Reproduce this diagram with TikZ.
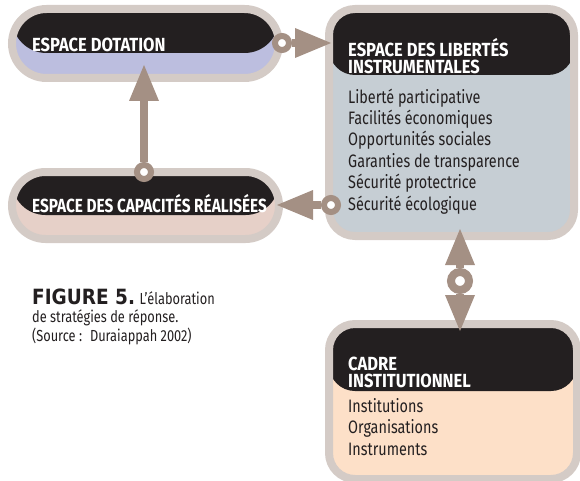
\documentclass[tikz,border=0pt]{standalone}
\usepackage{fontspec}
\usepackage{graphicx}
\setmainfont{Fira Sans}[FakeStretch=0.8, BoldFeatures={FakeStretch=0.87}]
\newfontfamily\figfont{DejaVu Sans}[FakeStretch=0.88]
\usetikzlibrary{arrows.meta, positioning}
\definecolor{rim}{RGB}{212,203,198}
\definecolor{ink}{RGB}{35,31,32}
\definecolor{arrowc}{RGB}{164,144,132}
\definecolor{lav}{RGB}{188,190,223}
\definecolor{steel}{RGB}{198,206,212}
\definecolor{blush}{RGB}{230,208,200}
\definecolor{peach}{RGB}{253,224,200}

\begin{document}
\begin{tikzpicture}[x=1pt, y=-1pt]

\tikzset{panel/.style n args = {3}{draw=rim, line width=8pt, fill=#1, rounded corners=#2,
  path picture={\fill[ink] (path picture bounding box.north west) rectangle ([yshift=-#3]path picture bounding box.north east);}}}
\tikzset{head/.style = {text=white, inner sep=0pt, anchor=base west, align=left, font=\fontsize{19}{16.7}\selectfont\bfseries}}
\tikzset{item/.style = {text=ink, inner sep=0pt, anchor=base west, align=left, font=\fontsize{18}{21.4}\selectfont}}
\tikzset{ring/.style = {circle, draw=arrowc, fill=white, line width=6pt, minimum size=14pt, inner sep=0pt}}
\tikzset{link/.style = {draw=arrowc, line width=8pt, -{Triangle[length=36pt, width=30pt, line width=0pt]}}}
\useasboundingbox (0,0) rectangle (580,481);

%panels
\node[panel={lav}{34.5pt}{44pt}, minimum width=267pt, minimum height=69pt] (dot) at (145.5,43.5) {};
\node[panel={blush}{33.5pt}{43pt}, minimum width=267pt, minimum height=67pt] (cap) at (145.5,205.5) {};
\node[panel={steel}{26pt}{66pt}, minimum width=245pt, minimum height=227pt] (lib) at (451.5,122.5) {};
\node[panel={peach}{26pt}{67pt}, minimum width=248pt, minimum height=155pt] (inst) at (453,401.5) {};

%texts (anchored on the last line)
\node[head] (dot-t) at (32,52) {ESPACE DOTATION};
\node[head] (cap-t) at (32,212) {\scalebox{0.93}[1]{ESPACE DES CAPACITÉS RÉALISÉES}};
\node[head] (lib-t) at (348,73.3) {ESPACE DES LIBERTÉS\\INSTRUMENTALES};
\node[item] (lib-l) at (348,210) {Liberté participative\\Facilités économiques\\Opportunités sociales\\Garanties de transparence\\Sécurité protectrice\\Sécurité écologique};
\node[head] (inst-t) at (348,387) {CADRE\\INSTITUTIONNEL};
\node[item] (inst-l) at (348,455) {Institutions\\Organisations\\Instruments};
\node[item, font=\fontsize{16}{18.5}\selectfont] (fig) at (32,341) {{\figfont\bfseries\fontsize{21}{18.5}\selectfont FIGURE 5.} L’élaboration\\de stratégies de réponse.\\(Source :~ Duraiappah 2002)};

%connectors
\node[ring] (r1) at (282,43) {};
\node[ring] (r2) at (144,172) {};
\node[ring] (r3) at (331,205) {};
\node[ring, line width=8pt, minimum size=18pt] (r4) at (460,281) {};
\draw[link, shorten >=-6pt] (r1) -- (r1 -| lib.west);
\draw[link, shorten >=-17pt] (r2) -- (r2 |- dot.south);
\draw[link, shorten >=-6pt] (r3) -- (r3 -| cap.east);
\draw[link, shorten >=-11pt] (r4) -- (r4 |- lib.south);
\draw[link, shorten >=-11pt] (r4) -- (r4 |- inst.north);

\end{tikzpicture}
\end{document}
